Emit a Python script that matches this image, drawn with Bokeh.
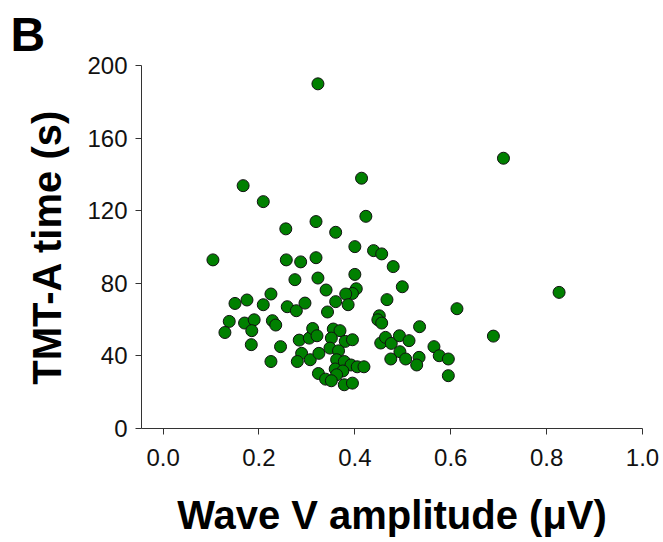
from bokeh.plotting import figure
from bokeh.models import Range1d, FixedTicker, PrintfTickFormatter, ColumnDataSource
from bokeh.embed import file_html
from bokeh.resources import INLINE

# Wave V amplitude (µV)
wave_v = [
    0.323, 0.167, 0.209, 0.256, 0.319, 0.360, 0.414, 0.423, 0.400, 0.439, 0.456, 0.710,
    0.480, 0.499, 0.467, 0.826, 0.613, 0.689, 0.535, 0.451, 0.448, 0.456, 0.454, 0.464,
    0.476, 0.493, 0.513, 0.494, 0.475, 0.506, 0.534, 0.529, 0.565, 0.576, 0.595, 0.595,
    0.104, 0.257, 0.287, 0.319, 0.275, 0.323, 0.400, 0.340, 0.403, 0.395, 0.381, 0.360,
    0.386, 0.225, 0.209, 0.175, 0.150, 0.259, 0.278, 0.296, 0.343, 0.138, 0.129, 0.170,
    0.190, 0.185, 0.184, 0.228, 0.235, 0.245, 0.225,
    0.284, 0.305, 0.312, 0.321, 0.289, 0.280, 0.307, 0.325, 0.324, 0.339,
    0.355, 0.369, 0.351, 0.380, 0.395, 0.348, 0.366, 0.362, 0.378, 0.392, 0.405, 0.419,
    0.359, 0.375, 0.362, 0.351, 0.378, 0.395,
]
# TMT-A time (s)
tmt_a = [
    189.9, 133.8, 125.0, 110.0, 114.0, 108.1, 137.9, 116.9, 100.2, 98.0, 96.2, 148.9,
    89.2, 78.1, 71.0, 75.0, 66.0, 50.9, 56.1, 62.1, 59.9, 58.1, 47.1, 50.2,
    46.9, 51.1, 48.4, 42.3, 38.3, 38.3, 39.2, 35.0, 45.1, 40.1, 38.3, 29.1,
    92.9, 92.9, 91.8, 94.1, 82.0, 82.9, 84.9, 76.3, 77.0, 74.4, 74.1, 69.9,
    68.2, 74.1, 68.2, 70.8, 68.9, 67.1, 64.9, 69.1, 64.2, 59.0, 52.9, 58.1,
    59.9, 53.9, 46.2, 59.4, 57.0, 45.1, 36.9,
    48.7, 49.8, 55.1, 51.1, 41.4, 36.9, 37.9, 41.4, 30.3, 27.2,
    54.8, 53.9, 49.8, 48.0, 48.9, 44.3, 42.8, 37.9, 36.9, 35.0, 34.0, 34.0,
    32.8, 31.7, 29.6, 26.3, 24.1, 25.0,
]

x_ticks = [0.0, 0.2, 0.4, 0.6, 0.8, 1.0]
y_ticks = [0, 40, 80, 120, 160, 200]

src = ColumnDataSource(dict(x=wave_v, y=tmt_a))

p = figure(
    title="B",
    frame_width=501, frame_height=363,
    min_border_left=141, min_border_right=21, min_border_top=65, min_border_bottom=112,
    x_range=Range1d(-0.045, 1.0), y_range=Range1d(0, 200),
    output_backend="svg", toolbar_location=None,
)
p.title.text_font = "Liberation Sans"
p.title.text_font_style = "bold"
p.title.text_font_size = "48px"
p.title.text_color = "black"
p.title.align = "left"
p.title.offset = -131
p.title.standoff = 10

p.outline_line_color = None
p.xgrid.visible = False
p.ygrid.visible = False
p.background_fill_color = "white"
p.border_fill_color = "white"

p.scatter("x", "y", source=src, size=12, fill_color="#008000",
          line_color="#111111", line_width=1)

for ax in (p.xaxis[0], p.yaxis[0]):
    ax.axis_line_color = "#333333"
    ax.axis_line_width = 1
    ax.major_tick_line_color = "#333333"
    ax.major_tick_in = 0
    ax.major_tick_out = 6
    ax.minor_tick_line_color = None
    ax.major_label_text_font = "Liberation Sans"
    ax.major_label_text_font_size = "24px"
    ax.major_label_text_color = "#111111"
    ax.axis_label_text_font = "Liberation Sans"
    ax.axis_label_text_font_style = "bold"
    ax.axis_label_text_font_size = "40px"
    ax.axis_label_text_color = "black"

p.xaxis.ticker = FixedTicker(ticks=x_ticks)
p.xaxis.formatter = PrintfTickFormatter(format="%.1f")
p.yaxis.ticker = FixedTicker(ticks=y_ticks)

p.xaxis.axis_label = "Wave V amplitude (\u03bcV)"
p.yaxis.axis_label = "TMT-A time (s)"
p.xaxis.major_label_standoff = 14
p.xaxis.axis_label_standoff = 24
p.yaxis.major_label_standoff = 8
p.yaxis.axis_label_standoff = 15

open("out.html", "w").write(file_html(p, INLINE))
